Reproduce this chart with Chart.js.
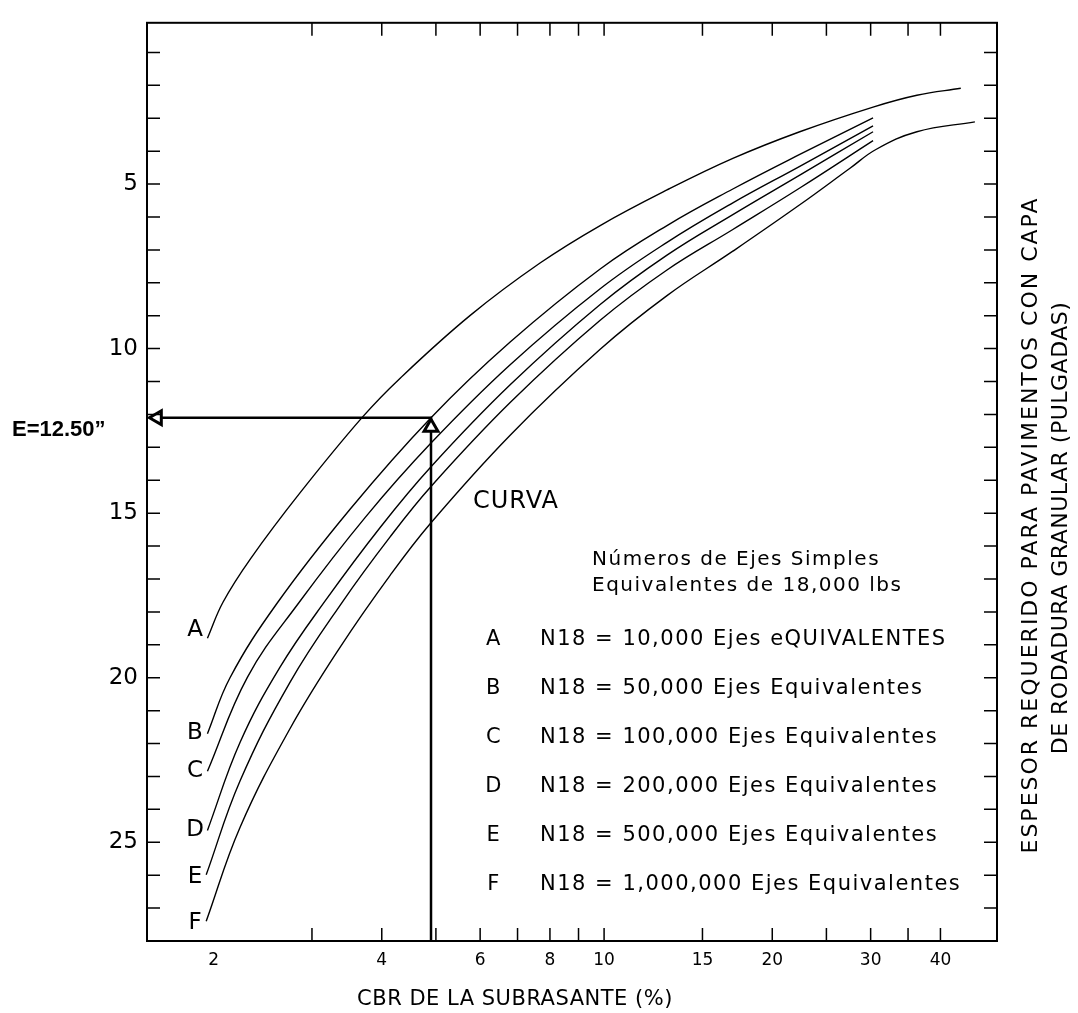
<!DOCTYPE html>
<html>
<head>
<meta charset="utf-8">
<script src="https://cdn.jsdelivr.net/npm/chart.js@4/dist/chart.umd.min.js"></script>
<style>
  html, body { margin: 0; padding: 0; background: #fff; }
</style>
</head>
<body>
<canvas id="cbr-chart" width="1078" height="1013"></canvas>
<script>
// CBR de la subrasante (x) and espesor requerido in pulgadas (y)
const cbrA = [1.95, 2.08, 2.33, 2.86, 3.69, 4.32, 5.76, 7.68, 9.84, 12.96, 17.0, 22.4, 30.3, 36.3, 43.5];
const espA = [18.8, 17.7, 16.38, 14.37, 12.09, 10.89, 8.99, 7.40, 6.26, 5.18, 4.22, 3.41, 2.66, 2.30, 2.09];

const cbrB = [1.95, 2.14, 2.60, 3.51, 4.90, 6.79, 9.84, 12.96, 17.0, 22.4, 30.3];
const espB = [21.7, 20.0, 17.73, 14.88, 12.1, 9.80, 7.58, 6.26, 5.15, 4.10, 2.99];

const cbrC = [1.95, 2.30, 2.84, 3.74, 4.90, 6.79, 9.84, 12.96, 17.0, 22.4, 30.3];
const espC = [22.84, 19.98, 17.73, 15.12, 12.87, 10.49, 8.18, 6.77, 5.57, 4.46, 3.23];

const cbrD = [1.95, 2.23, 2.63, 3.17, 3.98, 4.90, 6.79, 9.84, 12.96, 17.0, 22.4, 30.3];
const espD = [24.64, 21.97, 19.68, 17.66, 15.42, 13.59, 11.10, 8.66, 7.16, 5.93, 4.73, 3.41];

const cbrE = [1.94, 2.23, 2.74, 3.40, 4.14, 4.90, 6.79, 9.84, 12.96, 17.0, 22.4, 30.3];
const espE = [25.99, 23.14, 20.14, 17.70, 15.72, 14.19, 11.64, 9.14, 7.61, 6.38, 5.12, 3.68];

const cbrF = [1.94, 2.23, 2.74, 3.37, 4.14, 4.90, 6.79, 9.84, 12.96, 17.0, 22.4, 27.55, 30.66, 36.3, 46.1];
const espF = [27.40, 24.55, 21.55, 19.07, 16.89, 15.29, 12.63, 10.02, 8.39, 7.04, 5.63, 4.52, 3.95, 3.41, 3.11];

// design reading shown with the arrows
const cbrDesign = 4.9;
const espDesign = 12.1;

const curveLetters = ["A", "B", "C", "D", "E", "F"];
const legendRows = [
  "N18 = 10,000 Ejes eQUIVALENTES",
  "N18 = 50,000 Ejes Equivalentes",
  "N18 = 100,000 Ejes Equivalentes",
  "N18 = 200,000 Ejes Equivalentes",
  "N18 = 500,000 Ejes Equivalentes",
  "N18 = 1,000,000 Ejes Equivalentes",
];

// axis ticks
const xTickMarks = [3, 4, 5, 6, 7, 8, 9, 10, 15, 20, 25, 30, 35, 40];
const xTickLabels = [2, 4, 6, 8, 10, 15, 20, 30, 40];
const yTickMarks = [1, 2, 3, 4, 5, 6, 7, 8, 9, 10, 11, 12, 13, 14, 15, 16, 17, 18, 19, 20, 21, 22, 23, 24, 25, 26, 27];
const yTickLabels = [5, 10, 15, 20, 25];

function toPoints(xs, ys) {
  return xs.map(function (x, i) { return { x: x, y: ys[i] }; });
}

function curve(xs, ys) {
  return {
    data: toPoints(xs, ys),
    borderColor: "#000",
    borderWidth: 1.4,
    pointRadius: 0,
    tension: 0.4,
    fill: false,
    order: 1,
  };
}

const FONT = "'DejaVu Sans', sans-serif";

const drawExtras = {
  id: "drawExtras",
  afterDraw: function (chart) {
    const ctx = chart.ctx;
    const a = chart.chartArea;
    const xs = chart.scales.x;
    const ys = chart.scales.y;
    ctx.save();

    // frame
    ctx.strokeStyle = "#000";
    ctx.lineWidth = 2;
    ctx.strokeRect(a.left, a.top, a.right - a.left, a.bottom - a.top);

    // inward tick marks on all four sides
    ctx.lineWidth = 1.5;
    ctx.beginPath();
    xTickMarks.forEach(function (v) {
      const px = xs.getPixelForValue(v);
      ctx.moveTo(px, a.bottom);
      ctx.lineTo(px, a.bottom - 13);
      ctx.moveTo(px, a.top);
      ctx.lineTo(px, a.top + 13);
    });
    yTickMarks.forEach(function (v) {
      const py = ys.getPixelForValue(v);
      ctx.moveTo(a.left, py);
      ctx.lineTo(a.left + 13, py);
      ctx.moveTo(a.right, py);
      ctx.lineTo(a.right - 13, py);
    });
    ctx.stroke();

    ctx.fillStyle = "#000";
    ctx.textBaseline = "middle";

    // curve letters
    ctx.font = "23px " + FONT;
    ctx.textAlign = "center";
    const letterY = [630, 733, 771, 830, 877, 923];
    curveLetters.forEach(function (l, i) {
      ctx.fillText(l, 195, letterY[i]);
    });

    // legend block
    ctx.textAlign = "left";
    ctx.font = "24px " + FONT;
    ctx.letterSpacing = "1px";
    ctx.fillText("CURVA", 473, 502);
    ctx.font = "20px " + FONT;
    ctx.letterSpacing = "1.5px";
    ctx.fillText("Números de Ejes Simples", 592, 560);
    ctx.fillText("Equivalentes de 18,000 lbs", 592, 586);
    ctx.font = "21px " + FONT;
    legendRows.forEach(function (t, i) {
      const y = 640 + i * 49;
      ctx.textAlign = "center";
      ctx.fillText(curveLetters[i], 494, y);
      ctx.textAlign = "left";
      ctx.fillText(t, 540, y);
    });

    // bottom axis title
    ctx.textAlign = "center";
    ctx.font = "21px " + FONT;
    ctx.letterSpacing = "0.5px";
    ctx.fillText("CBR DE LA SUBRASANTE (%)", 515, 1000);

    // right axis title, reading bottom to top
    ctx.font = "22px " + FONT;
    ctx.letterSpacing = "2px";
    ctx.save();
    ctx.translate(1031, 525);
    ctx.rotate(-Math.PI / 2);
    ctx.fillText("ESPESOR REQUERIDO PARA PAVIMENTOS CON CAPA", 0, 0);
    ctx.restore();
    ctx.letterSpacing = "0.5px";
    ctx.save();
    ctx.translate(1061, 528);
    ctx.rotate(-Math.PI / 2);
    ctx.fillText("DE RODADURA GRANULAR (PULGADAS)", 0, 0);
    ctx.restore();

    // design thickness label
    ctx.letterSpacing = "0px";
    ctx.textAlign = "left";
    ctx.font = "bold 22px 'Liberation Sans', sans-serif";
    ctx.fillText("E=12.50\u201D", 12, ys.getPixelForValue(espDesign) + 12);

    ctx.restore();
  },
};

new Chart(document.getElementById("cbr-chart"), {
  type: "line",
  data: {
    datasets: [
      // arrow heads, drawn on top
      {
        type: "scatter",
        data: [
          { x: 1.586, y: espDesign },
          { x: cbrDesign, y: 12.39 },
        ],
        pointStyle: "triangle",
        pointRotation: [-90, 0],
        pointRadius: 8,
        pointBackgroundColor: "#fff",
        pointBorderColor: "#000",
        pointBorderWidth: 3,
        showLine: false,
        order: 0,
      },
      curve(cbrA, espA),
      curve(cbrB, espB),
      curve(cbrC, espC),
      curve(cbrD, espD),
      curve(cbrE, espE),
      curve(cbrF, espF),
      // design reading lines
      {
        data: [
          { x: cbrDesign, y: 28 },
          { x: cbrDesign, y: espDesign },
          { x: 1.586, y: espDesign },
        ],
        borderColor: "#000",
        borderWidth: 2.5,
        pointRadius: 0,
        tension: 0,
        fill: false,
        order: 1,
      },
    ],
  },
  options: {
    responsive: false,
    animation: false,
    devicePixelRatio: 1,
    layout: { padding: { top: 13, right: 81, left: 0, bottom: 0 } },
    plugins: {
      legend: { display: false },
      tooltip: { enabled: false },
    },
    scales: {
      x: {
        type: "logarithmic",
        min: 1.52,
        max: 50.5,
        grid: { display: false, drawTicks: false },
        border: { display: false },
        afterBuildTicks: function (s) {
          s.ticks = [2].concat(xTickMarks).map(function (v) { return { value: v }; });
        },
        afterFit: function (s) { s.height = 72; },
        ticks: {
          autoSkip: false,
          maxRotation: 0,
          padding: 9,
          color: "#000",
          font: { family: "'DejaVu Sans', sans-serif", size: 17 },
          callback: function (v) { return xTickLabels.includes(v) ? String(v) : ""; },
        },
      },
      y: {
        type: "linear",
        reverse: true,
        min: 0.1,
        max: 28,
        grid: { display: false, drawTicks: false },
        border: { display: false },
        afterBuildTicks: function (s) {
          s.ticks = yTickLabels.map(function (v) { return { value: v }; });
        },
        afterFit: function (s) { s.width = 147; },
        ticks: {
          padding: 9,
          color: "#000",
          font: { family: "'DejaVu Sans', sans-serif", size: 23 },
        },
      },
    },
  },
  plugins: [drawExtras],
});
</script>
</body>
</html>
